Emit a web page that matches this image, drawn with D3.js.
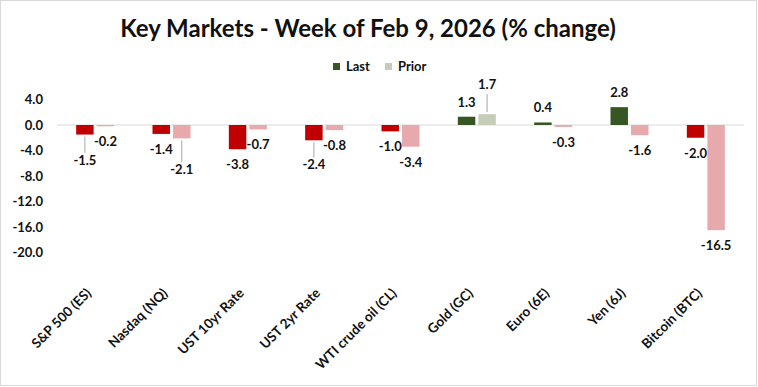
<!DOCTYPE html>
<html>
<head>
<meta charset="utf-8">
<title>Key Markets</title>
<style>
    body { margin: 0; padding: 0; background: white; }
    text { font-family: Lato, "Open Sans", sans-serif; font-weight: bold; fill: #111; }
    .lbl { font-size: 13px; }
    .tick { font-size: 13px; }
    .cat { font-size: 13.5px; }
</style>
</head>
<body>
<div id="chart"></div>
<script src="https://cdn.jsdelivr.net/npm/d3@7"></script>
<script>
    let categories = ["S&P 500 (ES)", "Nasdaq (NQ)", "UST 10yr Rate", "UST 2yr Rate",
        "WTI crude oil (CL)", "Gold (GC)", "Euro (6E)", "Yen (6J)", "Bitcoin (BTC)"]
    let lastWeek = [-1.5, -1.4, -3.8, -2.4, -1.0, 1.3, 0.4, 2.8, -2.0]
    let priorWeek = [-0.2, -2.1, -0.7, -0.8, -3.4, 1.7, -0.3, -1.6, -16.5]
    let yTicks = [4, 0, -4, -8, -12, -16, -20]
    let seriesNames = ["Last", "Prior"]

    // label shifts excel applied to avoid overlaps (px, with leader line)
    let labelShift = { "0-0": 10, "1-1": 16, "3-0": 9, "5-1": -15 }

    let width = 758, height = 387

    let svg = d3.select("#chart").append("svg")
        .attr("width", width)
        .attr("height", height)

    svg.append("rect")
        .attr("x", 0.5).attr("y", 0.5)
        .attr("width", 756).attr("height", 385)
        .attr("fill", "white")
        .attr("stroke", "#d9d9d9")

    svg.append("text")
        .attr("x", 368)
        .attr("y", 37)
        .attr("text-anchor", "middle")
        .attr("font-size", 24)
        .text("Key Markets - Week of Feb 9, 2026 (% change)")

    // legend
    let legendColors = ["#375623", "#c5cdb9"]
    let legendX = [333, 385]
    seriesNames.forEach(function(name, i){
        svg.append("rect")
            .attr("x", legendX[i]).attr("y", 63)
            .attr("width", 7).attr("height", 7)
            .attr("fill", legendColors[i])
        svg.append("text")
            .attr("x", legendX[i] + 13)
            .attr("y", 71)
            .attr("font-size", 13)
            .text(name)
    })

    let x0 = d3.scaleBand().domain(categories).range([57, 744])
    let x1 = d3.scaleBand().domain([0, 1]).range([-19, 19]).paddingInner(0.15)
    let y = d3.scaleLinear().domain([-20, 4]).range([252.5, 99.5])

    // zero line
    svg.append("line")
        .attr("x1", 57).attr("x2", 744)
        .attr("y1", y(0)).attr("y2", y(0))
        .attr("stroke", "#d9d9d9")

    // y tick labels
    svg.selectAll(".tick")
        .data(yTicks)
        .enter().append("text")
        .attr("class", "tick")
        .attr("x", 43)
        .attr("y", d => y(d) + 4.5)
        .attr("text-anchor", "end")
        .text(d => d3.format(".1f")(d).replace("−", "-"))

    function barColor(s, v){
        if (s === 0) return v >= 0 ? "#375623" : "#c00000"
        return v >= 0 ? "#c5cdb9" : "#e8a9ac"
    }

    let bars = []
    categories.forEach(function(c, i){
        bars.push({ cat: c, ci: i, s: 0, v: lastWeek[i] })
        bars.push({ cat: c, ci: i, s: 1, v: priorWeek[i] })
    })

    let cx = d => x0(d.cat) + x0.bandwidth() / 2 + x1(d.s)

    svg.selectAll(".bar")
        .data(bars)
        .enter().append("rect")
        .attr("class", "bar")
        .attr("x", d => cx(d))
        .attr("width", x1.bandwidth())
        .attr("y", d => y(Math.max(0, d.v)))
        .attr("height", d => Math.abs(y(d.v) - y(0)))
        .attr("fill", d => barColor(d.s, d.v))

    // data labels
    bars.forEach(function(d){
        let key = d.ci + "-" + d.s
        let shift = labelShift[key] || 0
        let mid = cx(d) + x1.bandwidth() / 2
        let end = y(d.v)
        let base = d.v < 0 ? end + 20 + shift : end - 10 + shift
        if (shift !== 0) {
            let a = d.v < 0 ? end + 2 : end - 2
            let b = d.v < 0 ? base - 12 : base + 5
            svg.append("line")
                .attr("x1", mid).attr("x2", mid)
                .attr("y1", a).attr("y2", b)
                .attr("stroke", "#a6a6a6")
        }
        svg.append("text")
            .attr("class", "lbl")
            .attr("x", mid)
            .attr("y", base)
            .attr("text-anchor", "middle")
            .text(d3.format(".1f")(d.v).replace("−", "-"))
    })

    // category labels
    svg.selectAll(".cat")
        .data(categories)
        .enter().append("text")
        .attr("class", "cat")
        .attr("text-anchor", "end")
        .attr("transform", d => "translate(" + (x0(d) + x0.bandwidth() / 2 - 3) + ",294) rotate(-45)")
        .text(d => d)
</script>
</body>
</html>
